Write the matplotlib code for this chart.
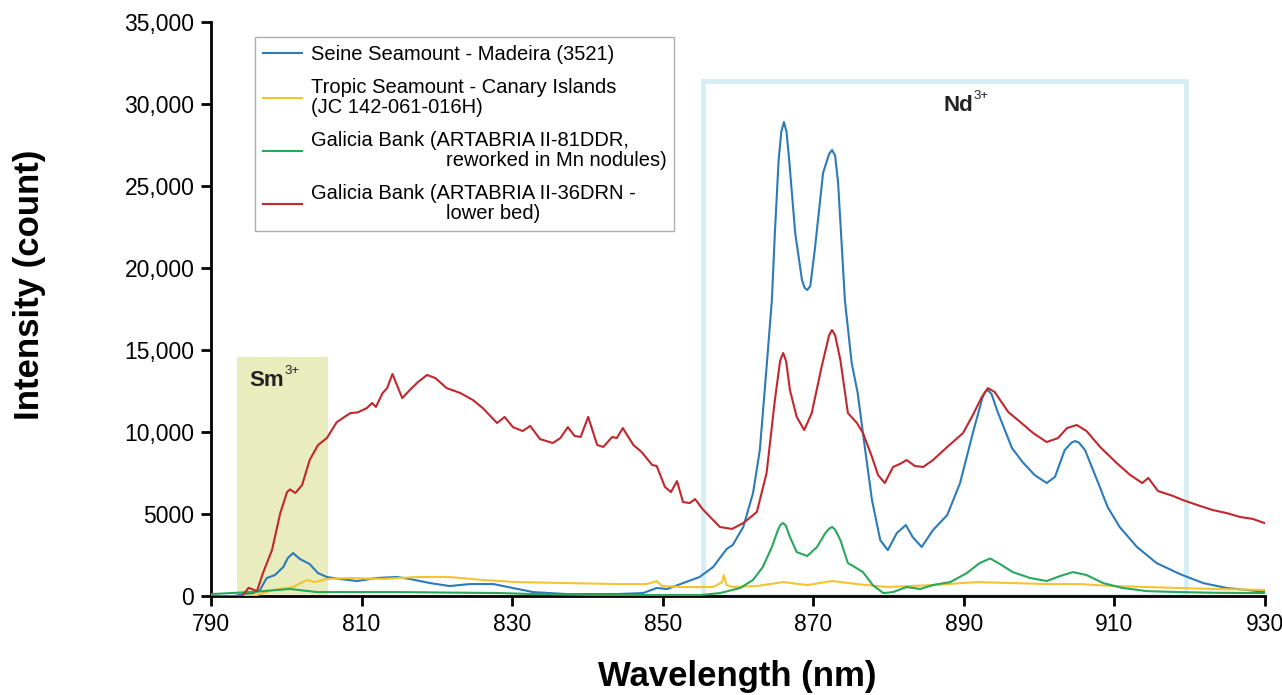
import matplotlib
matplotlib.use("Agg")
import matplotlib.pyplot as plt
from matplotlib.patches import Rectangle
from matplotlib.ticker import FuncFormatter
from matplotlib.transforms import offset_copy

plt.rcParams['font.family'] = ['Liberation Sans', 'DejaVu Sans']

# Seine Seamount - Madeira (3521)
seine_x = [790, 793, 794.3, 795.6, 796.5, 797.4, 798.5, 799.6, 800.2, 800.9, 801.8, 803.1, 804.2,
           805.4, 807.1, 809.4, 812.0, 814.7, 816.4, 819.1, 821.7, 824.4, 827.5, 830.1, 832.8,
           837.3, 843.9, 847.4, 849.2, 850.6, 852.7, 854.9, 856.7, 858.5, 859.3, 860.7, 862.0,
           862.9, 863.8, 864.5, 864.9, 865.4, 865.75, 866.1, 866.45, 866.8, 867.6, 868.5, 868.85,
           869.2, 869.6, 870.2, 871.3, 872.1, 872.5, 872.9, 873.3, 874.2, 875.1, 875.9, 876.9,
           877.8, 878.9, 879.9, 881.1, 882.3, 883.2, 884.4, 885.9, 887.8, 889.5, 891.2, 892.5,
           892.85, 893.2, 893.7, 894.4, 896.4, 897.8, 899.4, 901.0, 902.1, 903.4, 904.3, 904.8,
           905.3, 906.1, 907.7, 909.1, 910.7, 913.0, 915.6, 918.7, 921.8, 924.9, 927.6, 930.3]
seine_y = [0, 0, 100, 180, 370, 1100, 1280, 1770, 2320, 2620, 2260, 1950, 1400,
           1160, 1040, 915, 1100, 1160, 1040, 790, 610, 730, 730, 490, 240,
           120, 120, 180, 490, 430, 790, 1160, 1770, 2870, 3110, 4210, 6280,
           8900, 13960, 18050, 22140, 26590, 28300, 28900, 28300, 26590, 22140, 19270, 18800,
           18660, 18900, 21100, 25790, 26950, 27200, 26850, 25190, 18050, 14210, 12380, 8900,
           5850, 3410, 2800, 3840, 4330, 3600, 2990, 4020, 4940, 6890, 9940, 12140,
           12450, 12560, 12300, 11340, 9020, 8170, 7380, 6890, 7260, 8900, 9350, 9450,
           9350, 8900, 7070, 5430, 4210, 2990, 2010, 1340, 790, 490, 370, 240]

# Tropic Seamount - Canary Islands
tropic_x = [794, 796.1, 798.2, 800.9, 802.7, 803.8, 805.4, 808.5, 812.8, 817.4, 821.7, 826.1,
            830.6, 837.3, 843.9, 847.9, 849.2, 849.9, 852.7, 856.7, 857.9, 858.1, 858.5, 859.3,
            862.5, 866.0, 869.2, 872.5, 875.8, 879.8, 885.9, 891.7, 896.5, 901.0, 905.4, 909.8,
            914.3, 918.7, 923.1, 930.3]
tropic_y = [0, 60, 370, 550, 980, 850, 1040, 1100, 1040, 1160, 1160, 980,
            850, 790, 730, 730, 915, 610, 550, 550, 850, 1280, 670, 550,
            610, 850, 670, 915, 730, 550, 670, 850, 790, 730, 730, 610,
            550, 490, 430, 370]

# Galicia Bank (ARTABRIA II-81DDR)
galicia81_x = [790, 795.2, 800.5, 804.1, 815.1, 828.4, 832.8, 841.7, 855.0, 857.6, 860.3, 862.0,
               863.3, 864.5, 865.3, 865.65, 866.0, 866.35, 866.9, 867.8, 869.2, 870.5, 871.6, 872.1,
               872.5, 872.9, 873.6, 874.6, 875.5, 876.6, 877.9, 879.3, 880.6, 882.4, 884.2, 885.9,
               888.2, 890.4, 892.1, 893.5, 894.8, 896.5, 898.8, 901.0, 902.8, 904.5, 906.3, 908.5,
               911.1, 914.3, 918.7, 923.1, 930.3]
galicia81_y = [120, 240, 430, 240, 240, 180, 120, 60, 60, 180, 490, 980,
               1770, 2990, 4020, 4350, 4450, 4300, 3600, 2680, 2440, 2990, 3840, 4100,
               4210, 4050, 3410, 2010, 1770, 1460, 670, 180, 240, 550, 430, 670,
               850, 1400, 2010, 2290, 1950, 1460, 1100, 915, 1220, 1460, 1280, 790,
               490, 300, 240, 200, 180]

# Galicia Bank (ARTABRIA II-36DRN - lower bed)
galicia36_x = [794.0, 794.3, 795.0, 796.1, 796.9, 798.1, 799.2, 800.1, 800.5, 801.2, 802.1, 803.1,
               804.2, 805.4, 806.7, 807.5, 808.5, 809.5, 810.7, 811.4, 811.9, 812.8, 813.4, 814.1,
               815.4, 816.4, 817.5, 818.7, 819.8, 821.3, 823.1, 824.8, 826.1, 828.0, 829.0, 830.1,
               831.4, 832.4, 833.7, 835.4, 836.4, 837.4, 838.3, 839.1, 840.1, 841.3, 842.1, 843.3,
               843.9, 844.7, 846.1, 847.2, 848.6, 849.2, 850.3, 851.1, 851.9, 852.7, 853.6, 854.3,
               855.3, 856.3, 857.6, 859.2, 860.7, 862.5, 863.8, 864.9, 865.6, 866.0, 866.4, 866.9,
               867.8, 868.8, 869.8, 871.1, 872.1, 872.5, 872.9, 873.6, 874.6, 875.8, 876.6, 877.8,
               878.6, 879.5, 880.6, 881.5, 882.4, 883.5, 884.6, 885.9, 887.8, 889.9, 891.2, 892.4,
               893.2, 894.1, 895.9, 897.5, 899.2, 901.0, 902.5, 903.7, 905.0, 906.3, 908.1, 910.3,
               912.1, 913.7, 914.5, 915.8, 917.8, 919.1, 921.4, 923.1, 924.9, 926.7, 928.4, 930.3]
galicia36_y = [0, 100, 500, 300, 1400, 2800, 5060, 6340, 6500, 6280, 6770, 8290,
               9200, 9640, 10600, 10850, 11150, 11200, 11460, 11770, 11530, 12380, 12680, 13540,
               12070, 12560, 13050, 13480, 13290, 12680, 12380, 11950, 11460, 10550, 10920, 10300,
               10060, 10370, 9570, 9330, 9630, 10300, 9760, 9700, 10920, 9210, 9090, 9700,
               9630, 10240, 9210, 8780, 7990, 7930, 6650, 6340, 7010, 5730, 5670, 5910,
               5300, 4820, 4210, 4090, 4450, 5120, 7500, 11950, 14350, 14820, 14300, 12560,
               10920, 10120, 11160, 13960, 15900, 16220, 15900, 14390, 11160, 10550, 9940, 8480,
               7380, 6890, 7870, 8050, 8290, 7930, 7870, 8290, 9090, 9940, 11040, 12140,
               12680, 12440, 11220, 10610, 9940, 9390, 9630, 10240, 10430, 10060, 9090, 8110,
               7380, 6890, 7200, 6400, 6100, 5850, 5490, 5240, 5060, 4820, 4700, 4390]

indent = ' ' * 24
series = [
    ('Seine Seamount - Madeira (3521)', seine_x, seine_y, '#2b7bba'),
    ('Tropic Seamount - Canary Islands\n(JC 142-061-016H)', tropic_x, tropic_y, '#f4c430'),
    ('Galicia Bank (ARTABRIA II-81DDR,\n' + indent + 'reworked in Mn nodules)', galicia81_x, galicia81_y, '#27a85a'),
    ('Galicia Bank (ARTABRIA II-36DRN -\n' + indent + 'lower bed)', galicia36_x, galicia36_y, '#c1272d'),
]

sm_band = (793.5, 805.5, 14600)
nd_band = (855.3, 919.5, 31400)

fig = plt.figure(figsize=(12.82, 6.95), dpi=100)
ax = fig.add_axes([0.1646, 0.1424, 0.8221, 0.8259])

ax.add_patch(Rectangle((sm_band[0], 0), sm_band[1] - sm_band[0], sm_band[2],
                       facecolor='#e9ecbc', edgecolor='none', zorder=0))
ax.add_patch(Rectangle((nd_band[0], 0), nd_band[1] - nd_band[0], nd_band[2],
                       facecolor='none', edgecolor='#d5eef5', lw=3.5, zorder=0))

for label, xs, ys, color in series:
    ax.plot(xs, ys, color=color, lw=1.5, label=label, zorder=3)

sup = offset_copy(ax.transData, fig=fig, x=0.5, y=2, units='points')
for name, x, y in [('Sm', 799.7, 13170), ('Nd', 891.2, 29940)]:
    ax.text(x, y, name, fontsize=16, fontweight='bold', color='#222222', ha='right', va='center')
    ax.text(x, y, '3+', fontsize=9.5, color='#222222', ha='left', va='bottom', transform=sup)

ax.set_xlim(790, 930)
ax.set_ylim(0, 35000)
ax.set_xticks(range(790, 931, 20))
ax.set_yticks(range(0, 35001, 5000))
ax.yaxis.set_major_formatter(FuncFormatter(lambda v, p: f'{int(v):,}' if v >= 10000 else f'{int(v)}'))

for s in ['top', 'right']:
    ax.spines[s].set_visible(False)
for s in ['left', 'bottom']:
    ax.spines[s].set_linewidth(2)
ax.tick_params(direction='out', length=7, width=2, labelsize=16.5, pad=5)

ax.set_xlabel('Wavelength (nm)', fontsize=25, fontweight='bold')
ax.set_ylabel('Intensity (count)', fontsize=25, fontweight='bold')
ax.xaxis.set_label_coords(0.499, -0.141)
ax.xaxis.label.set_verticalalignment('center')
ax.yaxis.set_label_coords(-0.172, 0.542)
ax.yaxis.label.set_verticalalignment('center')

leg = ax.legend(loc='upper left', bbox_to_anchor=(0.042, 0.974), borderaxespad=0,
                fontsize=14.5, frameon=True, fancybox=False, edgecolor='#999999',
                handlelength=1.9, handletextpad=0.45, labelspacing=0.7, borderpad=0.4)
leg.get_frame().set_linewidth(1)
for t in leg.get_texts():
    t.set_linespacing(1.05)

plt.savefig('out.png', dpi=100)
